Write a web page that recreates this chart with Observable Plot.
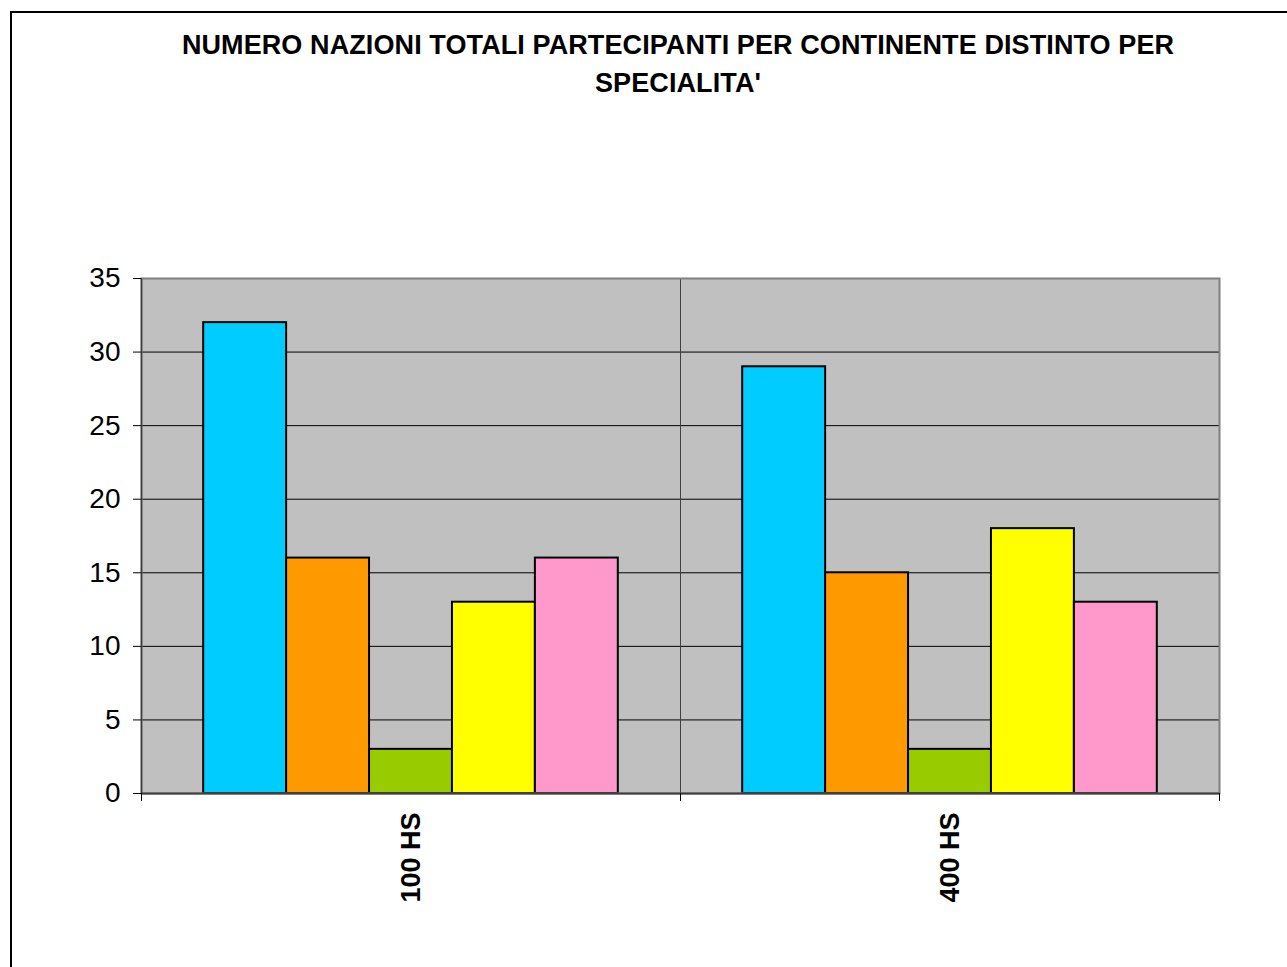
<!DOCTYPE html>
<html>
<head>
<meta charset="utf-8">
<script src="https://cdn.jsdelivr.net/npm/d3@7"></script>
<script src="https://cdn.jsdelivr.net/npm/@observablehq/plot@0.6"></script>
<style>
  body { margin: 0; background: #fff; }
  #wrap { position: relative; width: 1287px; height: 967px; overflow: hidden; font-family: "Liberation Sans", Arial, sans-serif; background: #fff; }
  #chart { position: absolute; left: 0; top: 0; }
  #border { position: absolute; left: 10px; top: 11px; width: 3000px; height: 3000px; border-left: 2px solid #000; border-top: 2px solid #000; box-sizing: border-box; pointer-events: none; }
  #title { position: absolute; left: 0; top: 26px; width: 1356px; text-align: center; font-weight: bold; font-size: 27px; line-height: 38px; white-space: nowrap; color: #000; letter-spacing: 0.1px; }
</style>
</head>
<body>
<div id="wrap">
  <div id="chart"></div>
  <div id="border"></div>
  <div id="title">NUMERO NAZIONI TOTALI PARTECIPANTI PER CONTINENTE DISTINTO PER<br>SPECIALITA'</div>
</div>
<script>
// ---- data ----
const groups = ["100 HS", "400 HS"];
const series = ["Serie 1", "Serie 2", "Serie 3", "Serie 4", "Serie 5"];
const colors = ["#00CCFF", "#FF9900", "#99CC00", "#FFFF00", "#FF99CC"];
const values100HS = [32, 16, 3, 13, 16];
const values400HS = [29, 15, 3, 18, 13];
const yTicks = [0, 5, 10, 15, 20, 25, 30, 35];

// ---- build table ----
const valuesByGroup = [values100HS, values400HS];
const rows = [];
groups.forEach((g, gi) => series.forEach((s, si) => rows.push({ group: g, gi, series: s, si, value: valuesByGroup[gi][si] })));

const outerPad = 0.75;
const step = 1 / (series.length + 2 * outerPad);

const chart = Plot.plot({
  width: 1287,
  height: 967,
  marginLeft: 141,
  marginRight: 68,
  marginTop: 278,
  marginBottom: 174,
  style: { fontFamily: "'Liberation Sans', Arial, sans-serif", background: "transparent", color: "#000" },
  x: { domain: [0, groups.length], axis: null, label: null },
  y: { domain: [0, 35], axis: null, label: null },
  color: { domain: series, range: colors },
  marks: [
    Plot.frame({ fill: "#C0C0C0" }),
    Plot.ruleY(yTicks.filter(v => v > 0 && v < 35), { stroke: "#000", strokeWidth: 1 }),
    Plot.ruleX(d3.range(1, groups.length), { stroke: "#404040", strokeWidth: 1 }),
    Plot.rectY(rows, {
      x1: d => d.gi + (outerPad + d.si) * step,
      x2: d => d.gi + (outerPad + d.si + 1) * step,
      y: "value",
      fill: "series",
      stroke: "#000",
      strokeWidth: 2
    }),
    Plot.frame({ stroke: "#808080", strokeWidth: 2 }),
    Plot.ruleX([0], { stroke: "#404040", strokeWidth: 1.5 }),
    Plot.ruleY([0], { stroke: "#404040", strokeWidth: 2 }),
    Plot.axisY({ ticks: yTicks, tickSize: 8, tickPadding: 13, fontSize: 28, tickFormat: d => String(d), stroke: "#000", label: null }),
    Plot.axisX({ ticks: d3.range(0, groups.length + 1), tickSize: 8, tickFormat: () => "", stroke: "#000", label: null }),
    Plot.text(groups, {
      x: (d, i) => i + 0.5,
      frameAnchor: "bottom",
      dy: 19,
      rotate: -90,
      textAnchor: "end",
      lineAnchor: "middle",
      fontSize: 27,
      fontWeight: "bold",
      fill: "#000"
    })
  ]
});
document.getElementById("chart").appendChild(chart);
</script>
</body>
</html>
